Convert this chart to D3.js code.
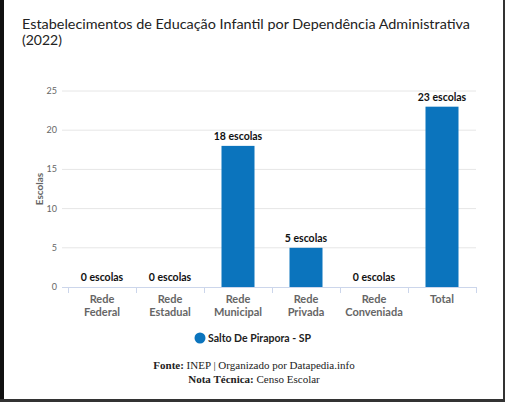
<!DOCTYPE html>
<html lang="pt">
<head>
<meta charset="UTF-8">
<title>Estabelecimentos de Educação Infantil</title>
<script src="https://cdn.jsdelivr.net/npm/d3@7"></script>
<style>
  body { margin: 0; background: #fff; }
  text { font-family: Lato, "Open Sans", sans-serif; }
</style>
</head>
<body>
<script>
// data
var categories = [["Rede", "Federal"], ["Rede", "Estadual"], ["Rede", "Municipal"],
                  ["Rede", "Privada"], ["Rede", "Conveniada"], ["Total"]];
var values = [0, 0, 18, 5, 0, 23];
var yTicks = [0, 5, 10, 15, 20, 25];
var seriesName = "Salto De Pirapora - SP";

var w = 508, h = 405;
var barColor = "#0b74bd";

var svg = d3.select("body").append("svg")
  .attr("width", w)
  .attr("height", h);

// frame
svg.append("rect").attr("x", 0).attr("y", 0).attr("width", 4).attr("height", 402).attr("fill", "#111");
svg.append("rect").attr("x", 503).attr("y", 0).attr("width", 2).attr("height", 402).attr("fill", "#333");
svg.append("rect").attr("x", 0).attr("y", 399).attr("width", 505).attr("height", 3).attr("fill", "#333");

// title
var title = svg.append("text")
  .attr("x", 22).attr("y", 29)
  .attr("font-size", 14).attr("fill", "#222");
title.append("tspan").attr("x", 22)
  .attr("textLength", 448).attr("lengthAdjust", "spacingAndGlyphs")
  .text("Estabelecimentos de Educação Infantil por Dependência Administrativa");
var title2 = svg.append("text")
  .attr("x", 22).attr("y", 45)
  .attr("font-size", 14).attr("fill", "#222")
  .text("(2022)");

var x = d3.scaleBand()
  .domain(categories.map(function(d) { return d.join(" "); }))
  .range([68, 476]);

var y = d3.scaleLinear().domain([0, 25]).range([287, 91]);

// grid
svg.selectAll(".grid").data(yTicks.slice(1)).enter()
  .append("line")
  .attr("x1", 62).attr("x2", 476)
  .attr("y1", function(d) { return y(d); })
  .attr("y2", function(d) { return y(d); })
  .attr("stroke", "#e6e6e6");

// y labels
svg.selectAll(".ylab").data(yTicks).enter()
  .append("text")
  .attr("x", 57).attr("y", function(d) { return y(d) + 3; })
  .attr("text-anchor", "end")
  .attr("font-size", 9).attr("fill", "#666")
  .text(function(d) { return d; });

svg.append("text")
  .attr("transform", "translate(43,189) rotate(-90)")
  .attr("text-anchor", "middle")
  .attr("font-size", 10).attr("font-weight", "bold").attr("fill", "#666")
  .text("Escolas");

// x axis line & ticks
svg.append("line").attr("x1", 62).attr("x2", 476).attr("y1", 287.5).attr("y2", 287.5).attr("stroke", "#ccd6eb");
var tickXs = categories.map(function(d) { return x(d.join(" ")); }).concat([476]);
svg.selectAll(".tick").data(tickXs).enter()
  .append("line")
  .attr("x1", function(d) { return d + 0.5; }).attr("x2", function(d) { return d + 0.5; })
  .attr("y1", 287).attr("y2", 293)
  .attr("stroke", "#ccd6eb");

// x labels
categories.forEach(function(c) {
  var t = svg.append("text")
    .attr("text-anchor", "middle")
    .attr("font-size", 11).attr("font-weight", "bold").attr("fill", "#666");
  c.forEach(function(line, i) {
    t.append("tspan")
      .attr("x", x(c.join(" ")) + x.bandwidth() / 2)
      .attr("y", 303 + i * 13)
      .text(line);
  });
});

// bars
var bw = 33;
var data = categories.map(function(c, i) { return { key: c.join(" "), v: values[i] }; });
svg.selectAll(".bar").data(data).enter()
  .append("rect")
  .attr("x", function(d) { return x(d.key) + (x.bandwidth() - bw) / 2; })
  .attr("y", function(d) { return y(d.v); })
  .attr("width", bw)
  .attr("height", function(d) { return y(0) - y(d.v); })
  .attr("fill", barColor);

svg.selectAll(".lab").data(data).enter()
  .append("text")
  .attr("x", function(d) { return x(d.key) + x.bandwidth() / 2; })
  .attr("y", function(d) { return y(d.v) - 6; })
  .attr("text-anchor", "middle")
  .attr("font-size", 10.5).attr("font-weight", "bold").attr("fill", "#111")
  .text(function(d) { return d.v + " escolas"; });

// legend
svg.append("circle").attr("cx", 200).attr("cy", 338).attr("r", 5.5).attr("fill", barColor);
svg.append("text").attr("x", 208).attr("y", 342)
  .attr("font-size", 10.5).attr("font-weight", "bold").attr("fill", "#222")
  .text(seriesName);

// source
var f1 = svg.append("text").attr("x", 254).attr("y", 369).attr("text-anchor", "middle")
  .attr("font-size", 11).attr("fill", "#222")
  .style("font-family", "'Liberation Serif', serif");
f1.append("tspan").attr("font-weight", "bold").text("Fonte:");
f1.append("tspan").text(" INEP | Organizado por Datapedia.info");
var f2 = svg.append("text").attr("x", 254).attr("y", 383).attr("text-anchor", "middle")
  .attr("font-size", 11).attr("fill", "#222")
  .style("font-family", "'Liberation Serif', serif");
f2.append("tspan").attr("font-weight", "bold").text("Nota Técnica:");
f2.append("tspan").text(" Censo Escolar");
</script>
</body>
</html>
